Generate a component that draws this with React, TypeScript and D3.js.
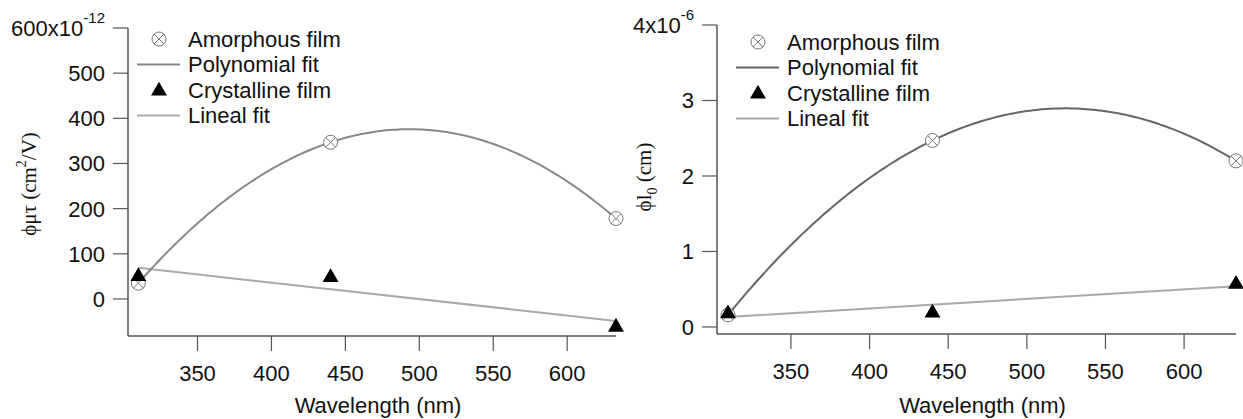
import React from 'react';
import * as d3 from 'd3';

// Data
const wavelengths = [310, 440, 633];
const amorphousMuTau = [35, 347, 178]; // x10^-12 cm^2/V
const crystallineMuTau = [52, 50, -60];
const amorphousL0 = [0.16, 2.47, 2.2]; // x10^-6 cm
const crystallineL0 = [0.19, 0.2, 0.58];

const xTicks = [350, 400, 450, 500, 550, 600];
const leftYTicks = [0, 100, 200, 300, 400, 500, 600];
const rightYTicks = [0, 1, 2, 3, 4];
const legendLabels = ['Amorphous film', 'Polynomial fit', 'Crystalline film', 'Lineal fit'];

const W = 1243;
const H = 419;
const FONT = '"Liberation Sans", Arial, sans-serif';
const SERIF = '"Liberation Serif", "Times New Roman", serif';
const FS = 22;

// exact quadratic through three points (Lagrange)
function quadFit(xs: number[], ys: number[]) {
  return (x: number) => {
    let s = 0;
    for (let i = 0; i < 3; i++) {
      let t = ys[i];
      for (let j = 0; j < 3; j++) {
        if (j !== i) t *= (x - xs[j]) / (xs[i] - xs[j]);
      }
      s += t;
    }
    return s;
  };
}

// least squares line
function linFit(xs: number[], ys: number[]) {
  const mx = d3.mean(xs)!;
  const my = d3.mean(ys)!;
  let sxy = 0, sxx = 0;
  xs.forEach((x, i) => {
    sxy += (x - mx) * (ys[i] - my);
    sxx += (x - mx) * (x - mx);
  });
  const b = sxy / sxx;
  return (x: number) => my + b * (x - mx);
}

interface PanelProps {
  x0: number;
  x1: number;
  yTop: number;
  yBottom: number;
  yDomain: [number, number];
  yTicks: number[];
  topExp: string;
  amorphous: number[];
  crystalline: number[];
  polyColor: string;
  yLabel: React.ReactNode;
  yLabelX: number;
  yLabelY: number;
  legendX: number;
  legendY: number;
}

const CircleX: React.FC<{ cx: number; cy: number; r?: number }> = ({ cx, cy, r = 7 }) => {
  const d = r * 0.7;
  return (
    <g stroke="#777" strokeWidth={1} fill="white">
      <circle cx={cx} cy={cy} r={r} />
      <line x1={cx - d} y1={cy - d} x2={cx + d} y2={cy + d} />
      <line x1={cx - d} y1={cy + d} x2={cx + d} y2={cy - d} />
    </g>
  );
};

const Triangle: React.FC<{ cx: number; cy: number }> = ({ cx, cy }) => {
  const tri = d3.symbol(d3.symbolTriangle, 110)();
  return <path d={tri || ''} transform={`translate(${cx},${cy + 1})`} fill="#000" />;
};

const Panel: React.FC<PanelProps> = (p) => {
  const x = d3.scaleLinear().domain([303, 633]).range([p.x0, p.x1]);
  const y = d3.scaleLinear().domain(p.yDomain).range([p.yBottom, p.yTop]);

  const poly = quadFit(wavelengths, p.amorphous);
  const lin = linFit(wavelengths, p.crystalline);
  const xs = d3.range(wavelengths[0], wavelengths[2] + 0.001, 2);
  const line = d3.line<number>().x((d) => x(d)).y((d) => y(poly(d)));
  const linPts = [wavelengths[0], wavelengths[2]];
  const linLine = d3.line<number>().x((d) => x(d)).y((d) => y(lin(d)));

  const axisColor = '#555';
  const lx = p.legendX;
  const ly = p.legendY;
  const rowH = 25.5;

  return (
    <g>
      {/* axes */}
      <line x1={p.x0} y1={y(p.yDomain[1])} x2={p.x0} y2={p.yBottom} stroke={axisColor} strokeWidth={1.5} />
      <line x1={p.x0} y1={p.yBottom} x2={p.x1} y2={p.yBottom} stroke={axisColor} strokeWidth={1.5} />
      {p.yTicks.map((t, i) => (
        <g key={'y' + t}>
          <line x1={p.x0 - 15} x2={p.x0} y1={y(t)} y2={y(t)} stroke={axisColor} strokeWidth={1.2} />
          <text
            x={p.x0 - 23}
            y={y(t)}
            dy="0.36em"
            textAnchor="end"
            fontSize={FS}
            fontFamily={FONT}
            fill="#111"
          >
            {i === p.yTicks.length - 1 ? (
              <>
                {t}x10
                <tspan fontSize={15} dy={-13}>{p.topExp}</tspan>
              </>
            ) : (
              t
            )}
          </text>
        </g>
      ))}
      {xTicks.map((t) => (
        <g key={'x' + t}>
          <line x1={x(t)} x2={x(t)} y1={p.yBottom} y2={p.yBottom + 15} stroke={axisColor} strokeWidth={1.2} />
          <text x={x(t)} y={p.yBottom + 45} textAnchor="middle" fontSize={FS} fontFamily={FONT} fill="#111">
            {t}
          </text>
        </g>
      ))}
      <text
        x={(p.x0 + p.x1) / 2 + 6}
        y={413}
        textAnchor="middle"
        fontSize={FS}
        fontFamily={FONT}
        fill="#111"
      >
        Wavelength (nm)
      </text>
      <text
        transform={`translate(${p.yLabelX},${p.yLabelY}) rotate(-90)`}
        textAnchor="middle"
        fontSize={21}
        fontFamily={SERIF}
        fill="#111"
      >
        {p.yLabel}
      </text>

      {/* fits */}
      <path d={linLine(linPts) || ''} fill="none" stroke="#aaa" strokeWidth={2} />
      <path d={line(xs) || ''} fill="none" stroke={p.polyColor} strokeWidth={2} />

      {/* points */}
      {wavelengths.map((w, i) => (
        <CircleX key={'a' + w} cx={x(w)} cy={y(p.amorphous[i])} />
      ))}
      {wavelengths.map((w, i) => (
        <Triangle key={'c' + w} cx={x(w)} cy={y(p.crystalline[i])} />
      ))}

      {/* legend */}
      <CircleX cx={lx} cy={ly} />
      <line x1={lx - 22} x2={lx + 21} y1={ly + rowH} y2={ly + rowH} stroke={p.polyColor} strokeWidth={2} />
      <Triangle cx={lx} cy={ly + rowH * 2} />
      <line x1={lx - 22} x2={lx + 21} y1={ly + rowH * 3} y2={ly + rowH * 3} stroke="#aaa" strokeWidth={2} />
      {legendLabels.map((l, i) => (
        <text
          key={l}
          x={lx + 29}
          y={ly + rowH * i}
          dy="0.36em"
          fontSize={FS}
          fontFamily={FONT}
          fill="#111"
        >
          {l}
        </text>
      ))}
    </g>
  );
};

export default function App() {
  return (
    <svg
      width={W}
      height={H}
      style={{ position: 'absolute', left: 0, top: 0, background: 'white' }}
    >
      <rect width={W} height={H} fill="white" />
      <Panel
        x0={128}
        x1={616}
        yTop={28}
        yBottom={336}
        yDomain={[-82, 600]}
        yTicks={leftYTicks}
        topExp="-12"
        amorphous={amorphousMuTau}
        crystalline={crystallineMuTau}
        polyColor="#888"
        yLabel={
          <>
            ϕμτ (cm<tspan fontSize={14} dy={-10}>2</tspan>
            <tspan dy={10}>/V)</tspan>
          </>
        }
        yLabelX={36}
        yLabelY={184}
        legendX={159}
        legendY={39}
      />
      <Panel
        x0={717}
        x1={1236}
        yTop={25}
        yBottom={334}
        yDomain={[-0.093, 4]}
        yTicks={rightYTicks}
        topExp="-6"
        amorphous={amorphousL0}
        crystalline={crystallineL0}
        polyColor="#666"
        yLabel={
          <>
            ϕl<tspan fontSize={14} dy={6}>0</tspan>
            <tspan dy={-6}> (cm)</tspan>
          </>
        }
        yLabelX={651}
        yLabelY={177}
        legendX={758}
        legendY={42}
      />
    </svg>
  );
}
